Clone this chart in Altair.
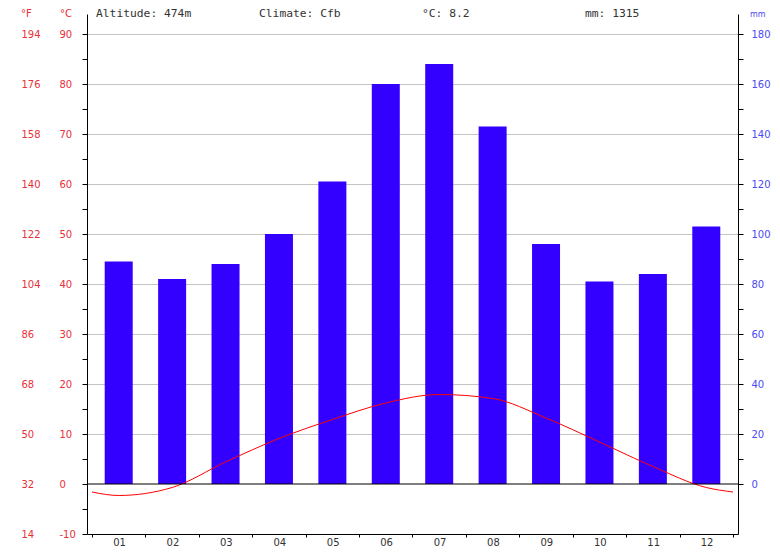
import altair as alt
import pandas as pd

# ---- data ----
months = ["01", "02", "03", "04", "05", "06", "07", "08", "09", "10", "11", "12"]
month_num = [1, 2, 3, 4, 5, 6, 7, 8, 9, 10, 11, 12]
precip_mm = [89, 82, 88, 100, 121, 160, 168, 143, 96, 81, 84, 103]
temp_c = [-2.3, -0.7, 4.4, 9.1, 12.9, 16.2, 17.9, 17.1, 13.2, 8.4, 3.5, -0.7]
edge_pos = [0.5, 12.5]
edge_temp = [-1.6, -1.6]
header_texts = ["Altitude: 474m", "Climate: Cfb", "°C: 8.2", "mm: 1315"]
c_ticks = list(range(-10, 95, 5))
f_ticks = list(range(-10, 95, 10))
mm_ticks = list(range(0, 190, 10))
x_ticks = [0.5 + i for i in range(13)]

bars_df = pd.DataFrame({"m": month_num, "label": months, "mm": precip_mm})
line_df = pd.DataFrame({"m": [edge_pos[0]] + month_num + [edge_pos[1]],
                        "t": [edge_temp[0]] + temp_c + [edge_temp[1]]})
zero_df = pd.DataFrame({"v": [0]})

W, H = 651, 520
T_DOM = [-10, 94.0]
MM_DOM = [-20, 188.0]
FONT = "DejaVu Sans"
MONO = "DejaVu Sans Mono"
RED = "#e8303a"
BLUE = "#4a4af2"
BAR = "#3300ff"

x_scale = alt.Scale(domain=[0.5, 12.5], nice=False, zero=False)

x_axis = alt.Axis(
    values=x_ticks,
    labelExpr="datum.value < 12 ? ((datum.value + 0.5) < 10 ? '0' : '') + (datum.value + 0.5) : ''",
    labelOffset=27, tickSize=3, labelPadding=0.5, labelFlush=False, labelOverlap=False,
    domainColor="black", tickColor="black", labelColor="#333", labelFont=FONT,
    labelFontSize=10, grid=False, title=None, labelAlign="center",
)

bars = alt.Chart(bars_df).mark_bar(size=28, color=BAR).encode(
    x=alt.X("m:Q", scale=x_scale, axis=x_axis),
    y=alt.Y("mm:Q", scale=alt.Scale(domain=MM_DOM, nice=False, zero=False),
            axis=alt.Axis(orient="right", values=mm_ticks,
                          labelExpr="datum.value % 20 == 0 ? datum.value : ''",
                          tickSize=5, labelPadding=8, labelColor=BLUE,
                          labelFont=FONT, labelFontSize=10, domainColor="black",
                          tickColor="black", grid=False, title=None,
                          labelOverlap=False, labelFlush=False)),
)

line = alt.Chart(line_df).mark_line(color="#ff0000", strokeWidth=1,
                                     interpolate="monotone").encode(
    x=alt.X("m:Q", scale=x_scale),
    y=alt.Y("t:Q", scale=alt.Scale(domain=T_DOM, nice=False, zero=False),
            axis=alt.Axis(orient="left", values=c_ticks,
                          labelExpr="datum.value % 10 == 0 ? datum.value : ''",
                          labelAlign="left", tickSize=5, labelPadding=23,
                          labelColor=RED, labelFont=FONT, labelFontSize=10,
                          domainColor="black", tickColor="black", title=None,
                          labelOverlap=False, labelFlush=False, grid=True,
                          gridColor={"condition": {"test": "datum.value > 0 && datum.value % 10 == 0",
                                                   "value": "#c4c4c4"},
                                     "value": "transparent"})),
)

zero = alt.Chart(zero_df).mark_rule(color="black", strokeWidth=1).encode(
    y=alt.Y("v:Q", scale=alt.Scale(domain=T_DOM, nice=False, zero=False),
            axis=alt.Axis(orient="left", values=f_ticks,
                          labelExpr="format(datum.value * 9 / 5 + 32, 'd')",
                          ticks=False, tickSize=0, domain=False, labelAlign="left",
                          labelPadding=66, labelColor=RED, labelFont=FONT,
                          labelFontSize=10, grid=False, title=None,
                          labelOverlap=False, labelFlush=False)),
)

def header(txt, px, color="#333", font=MONO, size=11.3):
    return alt.Chart(pd.DataFrame({"t": [txt]})).mark_text(
        align="left", baseline="alphabetic", font=font, fontSize=size, color=color
    ).encode(text="t:N", x=alt.value(px), y=alt.value(2.5))

headers = [
    header(header_texts[0], 9),
    header(header_texts[1], 172),
    header(header_texts[2], 335),
    header(header_texts[3], 498),
    header("°F", -66, RED, FONT, 10),
    header("°C", -27, RED, FONT, 10),
    header("mm", 663, BLUE, FONT, 8),
]

chart = alt.layer(bars, line, zero, *headers).resolve_scale(y="independent").properties(
    width=W, height=H,
    autosize=alt.AutoSizeParams(type="none"),
    padding={"left": 79, "top": 6, "right": 33, "bottom": 13},
).configure_view(strokeWidth=0)

chart.save("out.html", embed_options={"renderer": "svg", "actions": False})
